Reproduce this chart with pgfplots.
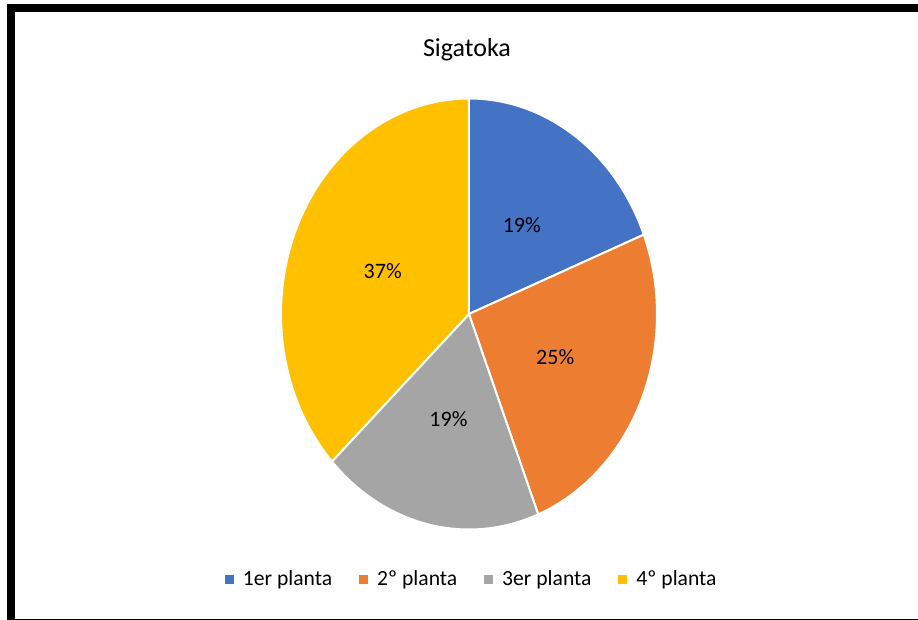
\documentclass[border=0pt]{standalone}
\usepackage{pgfplots}
\usepackage{pgfplotstable}
\pgfplotsset{compat=1.18}
\usepackage{fontspec}
\setmainfont{Carlito}

\definecolor{slice0}{HTML}{4472C4}
\definecolor{slice1}{HTML}{ED7D31}
\definecolor{slice2}{HTML}{A5A5A5}
\definecolor{slice3}{HTML}{FFC000}

% share of each plant (percent)
\pgfplotstableread{
name value
1er 19
2o 25
3er 19
4o 37
}\piedata
\pgfplotstablecreatecol[create col/expr accum={\pgfmathaccuma + \thisrow{value}}{0}]{cum}\piedata

\begin{document}
\begin{tikzpicture}
\useasboundingbox (-234.5pt,-153pt) rectangle (224.5pt,157pt);
\clip (-234.5pt,-153pt) rectangle (224.5pt,157pt);
\fill[white] (-234.5pt,-153pt) rectangle (224.5pt,157pt);
% frame
\draw[black, line width=4pt] (240pt,153pt) -- (-229pt,153pt) -- (-229pt,-154.5pt) -- (240pt,-154.5pt);
\node[font=\fontsize{13}{15}\selectfont] at (-1pt,132pt) {Sigatoka};

\begin{axis}[
    at={(0,0)}, anchor=center,
    width=188pt, height=215.5pt, scale only axis,
    xmin=-1, xmax=1, ymin=-1, ymax=1,
    hide axis, clip=false,
    legend style={draw=none, fill=none, at={(0.51,-0.117)}, anchor=center,
      legend columns=4, font=\fontsize{10.8}{12}\selectfont,
      /tikz/every even column/.append style={column sep=11.5pt}},
    legend image code/.code={\fill[#1, draw=none] (0pt,-2.25pt) rectangle (4.5pt,2.25pt);
      \path[draw=none, fill=none] (4.5pt,0pt) -- (7pt,0pt);},
  ]
\pgfplotsforeachungrouped \i in {0,...,3}{
  \pgfplotstablegetelem{\i}{value}\of\piedata \let\val\pgfplotsretval
  \pgfplotstablegetelem{\i}{cum}\of\piedata \let\cm\pgfplotsretval
  \pgfmathsetmacro\sa{90-3.6*\cm}
  \pgfmathsetmacro\ea{\sa+3.6*\val}
  \pgfmathsetmacro\ma{(\sa+\ea)/2}
  \edef\temp{\noexpand\filldraw[fill=slice\i, draw=white, line width=1pt]
    (axis cs:0,0) -- (axis cs:{cos(\ea)},{sin(\ea)})
    arc[start angle=\ea, end angle=\sa, x radius=94pt, y radius=107.75pt] -- cycle;
    \noexpand\node[font=\noexpand\fontsize{11}{13}\noexpand\selectfont]
    at (axis cs:{0.5*cos(\ma)},{0.5*sin(\ma)}) {\val\noexpand\%};}
  \temp
}
\addlegendimage{fill=slice0}\addlegendentry{1er planta}
\addlegendimage{fill=slice1}\addlegendentry{2º planta}
\addlegendimage{fill=slice2}\addlegendentry{3er planta}
\addlegendimage{fill=slice3}\addlegendentry{4º planta}
\end{axis}
\end{tikzpicture}
\end{document}
